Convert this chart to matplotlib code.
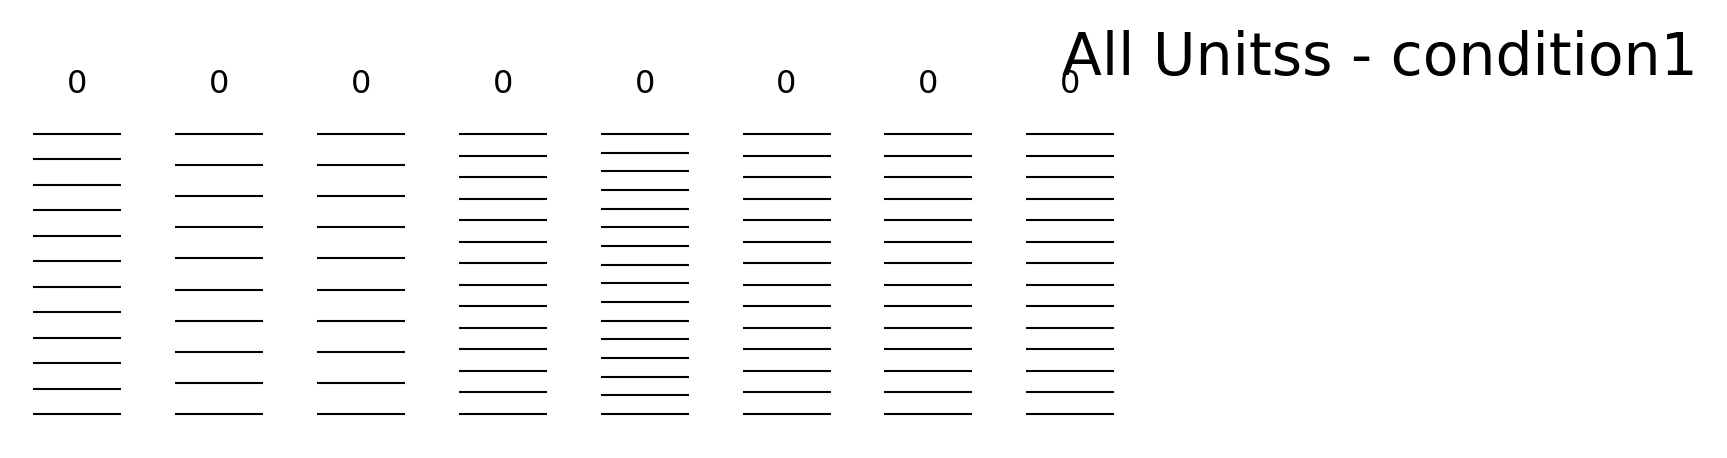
import matplotlib
matplotlib.use("Agg")

import matplotlib.pyplot as plt

# Trials per unit (one horizontal line per trial)
unit_labels = ["0", "0", "0", "0", "0", "0", "0", "0"]
trial_counts = [12, 10, 10, 14, 16, 14, 14, 14]
suptitle = "All Unitss - condition1"

W, H = 1727, 458
fig = plt.figure(figsize=(W / 100, H / 100), dpi=100)

# Panel layout in pixels
left0, step, width = 33, 141.9, 88
top, bottom = 134, 414

for i, (label, n) in enumerate(zip(unit_labels, trial_counts)):
    ax = fig.add_axes([
        (left0 + step * i) / W,
        1 - bottom / H,
        width / W,
        (bottom - top) / H,
    ])
    ax.hlines(range(n), 0, 1, colors="black", linewidth=1.5, clip_on=False)
    ax.set_xlim(0, 1)
    ax.set_ylim(n - 1, 0)
    ax.axis("off")
    ax.set_title(label, fontsize=23, pad=29.5)

fig.text(1380 / W, 1 - 75 / H, suptitle, fontsize=42,
         ha="center", va="baseline")

fig.savefig("out.png", dpi=100)
plt.close(fig)
